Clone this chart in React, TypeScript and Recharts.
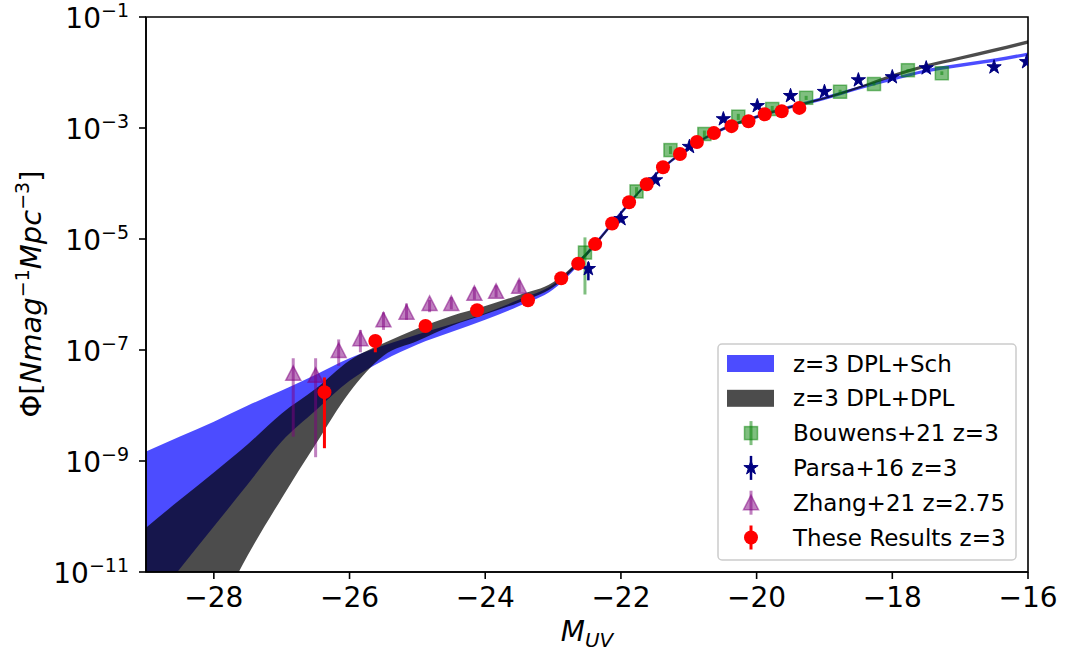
import {
  ComposedChart,
  Area,
  Scatter,
  XAxis,
  YAxis,
  ErrorBar,
  ReferenceArea,
} from "recharts";

const FONT = "DejaVu Sans, sans-serif";

// axis ticks
const xTicks = [-28, -26, -24, -22, -20, -18, -16];
const xTickLabels = ["−28", "−26", "−24", "−22", "−20", "−18", "−16"];
const yTicks = [1e-11, 1e-9, 1e-7, 1e-5, 1e-3, 1e-1];
const yTickExp = ["−11", "−9", "−7", "−5", "−3", "−1"];

// model bands
const bandM = [
  -29, -28.5, -28, -27.5, -27, -26.5, -26, -25.5, -25, -24.5, -24, -23.5, -23,
  -22.5, -22, -21.5, -21, -20.5, -20, -19.5, -19, -18.5, -18, -17.5, -17, -16.5,
  -16,
];
const schLo = [
  1.95e-12, 1.15e-11, 6.6e-11, 3.8e-10, 2.24e-9, 8.1e-9, 2.8e-8, 6.5e-8,
  1.26e-7, 2.1e-7, 3.5e-7, 6.2e-7, 1.23e-6, 5.0e-6, 2.7e-5, 1.32e-4, 4.1e-4,
  8.9e-4, 1.48e-3, 2.24e-3, 3.2e-3, 4.9e-3, 7.1e-3, 1.0e-2, 1.26e-2, 1.55e-2,
  2.0e-2,
];
const schHi = [
  1.48e-9, 2.75e-9, 5.1e-9, 1.0e-8, 1.86e-8, 3.6e-8, 7.1e-8, 1.2e-7, 1.9e-7,
  2.9e-7, 4.6e-7, 8.1e-7, 1.51e-6, 6.0e-6, 3.2e-5, 1.51e-4, 4.7e-4, 1.02e-3,
  1.7e-3, 2.57e-3, 3.7e-3, 5.6e-3, 8.1e-3, 1.15e-2, 1.45e-2, 1.78e-2, 2.3e-2,
];
const dplLo = [
  6.3e-15, 8.9e-14, 1.35e-12, 2.0e-11, 2.14e-10, 2.0e-9, 1.74e-8, 7.9e-8,
  1.45e-7, 2.7e-7, 4.4e-7, 7.2e-7, 1.35e-6, 5.1e-6, 2.75e-5, 1.35e-4, 4.2e-4,
  9.1e-4, 1.51e-3, 2.3e-3, 3.3e-3, 5.1e-3, 8.1e-3, 1.23e-2, 1.7e-2, 2.34e-2,
  3.3e-2,
];
const dplHi = [
  6.3e-11, 2.0e-10, 6.2e-10, 2.0e-9, 7.2e-9, 2.0e-8, 6.5e-8, 1.32e-7, 2.45e-7,
  4.1e-7, 6.2e-7, 9.8e-7, 1.66e-6, 5.9e-6, 3.1e-5, 1.48e-4, 4.6e-4, 1.0e-3,
  1.66e-3, 2.5e-3, 3.6e-3, 5.6e-3, 9.3e-3, 1.41e-2, 1.95e-2, 2.7e-2, 3.8e-2,
];

// Bouwens+21 z=3
const bouM = [-22.53, -21.77, -21.27, -20.77, -20.27, -19.77, -19.27, -18.77, -18.27, -17.77, -17.27];
const bouPhi = [5.7e-6, 7.2e-5, 4.0e-4, 7.8e-4, 1.6e-3, 2.2e-3, 3.5e-3, 4.5e-3, 6.2e-3, 1.1e-2, 9.7e-3];
const bouLo = [1.0e-6, 6.0e-5, 3.4e-4, 6.8e-4, 1.4e-3, 1.95e-3, 3.2e-3, 4.1e-3, 5.8e-3, 1.05e-2, 9.0e-3];
const bouHi = [1.07e-5, 8.6e-5, 4.7e-4, 9.0e-4, 1.8e-3, 2.5e-3, 3.8e-3, 4.9e-3, 6.6e-3, 1.15e-2, 1.05e-2];

// Parsa+16 z=3
const parM = [-22.48, -22.0, -21.49, -20.99, -20.49, -19.99, -19.5, -19.0, -18.5, -18.0, -17.5, -16.5, -16.02];
const parPhi = [2.9e-6, 2.3e-5, 1.15e-4, 4.6e-4, 1.45e-3, 2.5e-3, 3.8e-3, 4.5e-3, 7.3e-3, 8.3e-3, 1.2e-2, 1.25e-2, 1.55e-2];
const parLo = [1.8e-6, null, null, null, null, null, null, null, null, null, null, null, null];
const parHi = [3.8e-6, null, null, null, null, null, null, null, null, null, null, null, null];

// Zhang+21 z=2.75
const zhaM = [-26.83, -26.5, -26.16, -25.84, -25.5, -25.16, -24.82, -24.5, -24.16, -23.84, -23.5];
const zhaPhi = [3.8e-8, 3.5e-8, 9.8e-8, 1.6e-7, 3.5e-7, 4.8e-7, 6.9e-7, 6.9e-7, 1.05e-6, 1.14e-6, 1.41e-6];
const zhaLo = [2.75e-9, 1.17e-9, 5.2e-8, 9.1e-8, 2.3e-7, 3.5e-7, 4.8e-7, 5.4e-7, 8.1e-7, 8.9e-7, 1.1e-6];
const zhaHi = [7.1e-8, 7.1e-8, 1.55e-7, 2.3e-7, 4.8e-7, 6.9e-7, 8.0e-7, 8.9e-7, 1.35e-6, 1.45e-6, 1.8e-6];

// These Results z=3
const resM = [
  -26.37, -25.62, -24.88, -24.12, -23.37, -22.88, -22.63, -22.38, -22.13, -21.88,
  -21.62, -21.38, -21.13, -20.88, -20.63, -20.37, -20.12, -19.88, -19.63, -19.37,
];
const resPhi = [
  1.74e-8, 1.45e-7, 2.7e-7, 5.2e-7, 7.9e-7, 1.96e-6, 3.6e-6, 8.1e-6, 1.9e-5, 4.6e-5,
  9.7e-5, 1.96e-4, 3.4e-4, 5.6e-4, 8.1e-4, 1.08e-3, 1.32e-3, 1.77e-3, 2.0e-3, 2.3e-3,
];
const resLo = [1.7e-9, 9.1e-8, null, null, null, null, null, null, null, null, null, null, null, null, null, null, null, null, null, null];
const resHi = [3.2e-8, 1.86e-7, null, null, null, null, null, null, null, null, null, null, null, null, null, null, null, null, null, null];

const bandData = bandM.map((m, i) => ({
  m,
  sch: [schLo[i], schHi[i]],
  dpl: [dplLo[i], dplHi[i]],
}));

const points = (
  ms: number[],
  phi: number[],
  lo: (number | null)[],
  hi: (number | null)[]
) =>
  ms.map((m, i) => ({
    m,
    phi: phi[i],
    err: [
      lo[i] == null ? 0 : phi[i] - (lo[i] as number),
      hi[i] == null ? 0 : (hi[i] as number) - phi[i],
    ],
  }));

const bouData = points(bouM, bouPhi, bouLo, bouHi);
const parData = points(parM, parPhi, parLo, parHi);
const zhaData = points(zhaM, zhaPhi, zhaLo, zhaHi);
const resData = points(resM, resPhi, resLo, resHi);

const starPath = (cx: number, cy: number, r: number) => {
  let d = "";
  for (let k = 0; k < 10; k++) {
    const rr = k % 2 === 0 ? r : r * 0.382;
    const a = -Math.PI / 2 + (k * Math.PI) / 5;
    d += (k === 0 ? "M" : "L") + (cx + rr * Math.cos(a)) + "," + (cy + rr * Math.sin(a));
  }
  return d + "Z";
};

// eslint-disable-next-line @typescript-eslint/no-explicit-any
const Circle = (p: any) => <circle cx={p.cx} cy={p.cy} r={7} fill="#ff0000" />;
// eslint-disable-next-line @typescript-eslint/no-explicit-any
const Square = (p: any) => (
  <rect
    x={p.cx - 6.5}
    y={p.cy - 6.5}
    width={13}
    height={13}
    fill="#008000"
    fillOpacity={0.5}
    stroke="#008000"
    strokeOpacity={0.5}
    strokeWidth={1.5}
  />
);
// eslint-disable-next-line @typescript-eslint/no-explicit-any
const Tri = (p: any) => (
  <path
    d={`M${p.cx},${p.cy - 7.5}L${p.cx - 7.5},${p.cy + 7}L${p.cx + 7.5},${p.cy + 7}Z`}
    fill="#800080"
    fillOpacity={0.5}
    stroke="#800080"
    strokeOpacity={0.5}
    strokeWidth={1.5}
  />
);
// eslint-disable-next-line @typescript-eslint/no-explicit-any
const Star = (p: any) => <path d={starPath(p.cx, p.cy, 7.5)} fill="#000080" stroke="#000080" strokeWidth={1} />;

// eslint-disable-next-line @typescript-eslint/no-explicit-any
const XTick = ({ x, y, payload }: any) => (
  <text x={x} y={y + 26} textAnchor="middle" fontSize={28} fontFamily={FONT} fill="#000">
    {xTickLabels[xTicks.indexOf(payload.value)]}
  </text>
);

// eslint-disable-next-line @typescript-eslint/no-explicit-any
const YTick = ({ x, y, payload }: any) => {
  const i = yTicks.findIndex((t) => Math.abs(Math.log10(t) - Math.log10(payload.value)) < 0.01);
  return (
    <text x={x - 8} y={y + 11} textAnchor="end" fontSize={28} fontFamily={FONT} fill="#000">
      10
      <tspan dy={-11} fontSize={19}>
        {yTickExp[i]}
      </tspan>
    </text>
  );
};

const legendRows = [
  { label: "z=3 DPL+Sch", kind: "patchBlue" },
  { label: "z=3 DPL+DPL", kind: "patchGray" },
  { label: "Bouwens+21 z=3", kind: "square" },
  { label: "Parsa+16 z=3", kind: "star" },
  { label: "Zhang+21 z=2.75", kind: "tri" },
  { label: "These Results z=3", kind: "circle" },
];

const LegendBox = () => (
  <svg
    width={300}
    height={218}
    style={{ position: "absolute", left: 717, top: 343 }}
  >
    <rect x={1} y={1} width={298} height={216} rx={4} fill="#fff" fillOpacity={0.8} stroke="#cccccc" strokeWidth={1.5} />
    {legendRows.map((r, i) => {
      const cy = 20.5 + i * 34.8;
      const cx = 34;
      let icon = null;
      if (r.kind === "patchBlue")
        icon = <rect x={10} y={cy - 8.5} width={47} height={17} fill="#0000ff" fillOpacity={0.7} />;
      else if (r.kind === "patchGray")
        icon = <rect x={10} y={cy - 8.5} width={47} height={17} fill="#000" fillOpacity={0.7} />;
      else if (r.kind === "square")
        icon = (
          <g>
            <line x1={cx} x2={cx} y1={cy - 12} y2={cy + 12} stroke="#008000" strokeOpacity={0.5} strokeWidth={3} />
            <Square cx={cx} cy={cy} />
          </g>
        );
      else if (r.kind === "star")
        icon = (
          <g>
            <line x1={cx} x2={cx} y1={cy - 12} y2={cy + 12} stroke="#000080" strokeWidth={2.5} />
            <Star cx={cx} cy={cy} />
          </g>
        );
      else if (r.kind === "tri")
        icon = (
          <g>
            <line x1={cx} x2={cx} y1={cy - 12} y2={cy + 12} stroke="#800080" strokeOpacity={0.5} strokeWidth={3} />
            <Tri cx={cx} cy={cy} />
          </g>
        );
      else
        icon = (
          <g>
            <line x1={cx} x2={cx} y1={cy - 12} y2={cy + 12} stroke="#ff0000" strokeWidth={3} />
            <Circle cx={cx} cy={cy} />
          </g>
        );
      return (
        <g key={r.label}>
          {icon}
          <text x={76} y={cy + 8} fontSize={23} fontFamily={FONT} fill="#000">
            {r.label}
          </text>
        </g>
      );
    })}
  </svg>
);

export default function App() {
  return (
    <div style={{ position: "absolute", left: 0, top: 0, width: 1067, height: 654, background: "#fff" }}>
      <ComposedChart
        width={1067}
        height={654}
        data={bandData}
        margin={{ top: 17, right: 39, bottom: 52, left: 86 }}
      >
        <XAxis
          type="number"
          dataKey="m"
          domain={[-29, -16]}
          ticks={xTicks}
          allowDataOverflow
          height={30}
          tick={<XTick />}
          tickSize={7}
          tickLine={{ stroke: "#000", strokeWidth: 1.6 }}
          axisLine={{ stroke: "#000", strokeWidth: 1.6 }}
          label={{
            content: () => (
              <text x={587} y={641} textAnchor="middle" fontSize={28} fontFamily={FONT} fill="#000">
                <tspan fontStyle="italic">M</tspan>
                <tspan dy={6} fontSize={20} fontStyle="italic">
                  UV
                </tspan>
              </text>
            ),
          }}
        />
        <YAxis
          type="number"
          scale="log"
          domain={[1e-11, 1e-1]}
          ticks={yTicks}
          allowDataOverflow
          width={60}
          tick={<YTick />}
          tickSize={7}
          tickLine={{ stroke: "#000", strokeWidth: 1.6 }}
          axisLine={{ stroke: "#000", strokeWidth: 1.6 }}
          label={{
            content: () => (
              <text
                x={41}
                y={294}
                transform="rotate(-90, 41, 294)"
                textAnchor="middle"
                fontSize={29}
                fontFamily={FONT}
                fill="#000"
              >
                Φ[
                <tspan fontStyle="italic">Nmag</tspan>
                <tspan dy={-12} fontSize={19}>
                  −1
                </tspan>
                <tspan dy={12} fontStyle="italic">
                  Mpc
                </tspan>
                <tspan dy={-12} fontSize={19}>
                  −3
                </tspan>
                <tspan dy={12}>]</tspan>
              </text>
            ),
          }}
        />
        <Area
          type="monotone"
          dataKey="sch"
          stroke="none"
          fill="#0000ff"
          fillOpacity={0.7}
          isAnimationActive={false}
        />
        <Area
          type="monotone"
          dataKey="dpl"
          stroke="none"
          fill="#000000"
          fillOpacity={0.7}
          isAnimationActive={false}
        />
        <Scatter data={bouData} dataKey="phi" shape={Square} isAnimationActive={false}>
          <ErrorBar dataKey="err" direction="y" width={0} stroke="rgba(0,128,0,0.5)" strokeWidth={3} />
        </Scatter>
        <Scatter data={parData} dataKey="phi" shape={Star} isAnimationActive={false}>
          <ErrorBar dataKey="err" direction="y" width={0} stroke="#000080" strokeWidth={2.5} />
        </Scatter>
        <Scatter data={zhaData} dataKey="phi" shape={Tri} isAnimationActive={false}>
          <ErrorBar dataKey="err" direction="y" width={0} stroke="rgba(128,0,128,0.5)" strokeWidth={3} />
        </Scatter>
        <Scatter data={resData} dataKey="phi" shape={Circle} isAnimationActive={false}>
          <ErrorBar dataKey="err" direction="y" width={0} stroke="#ff0000" strokeWidth={3} />
        </Scatter>
        <ReferenceArea x1={-29} x2={-16} y1={1e-11} y2={1e-1} fill="none" stroke="#000" strokeWidth={1.6} />
      </ComposedChart>
      <LegendBox />
    </div>
  );
}
